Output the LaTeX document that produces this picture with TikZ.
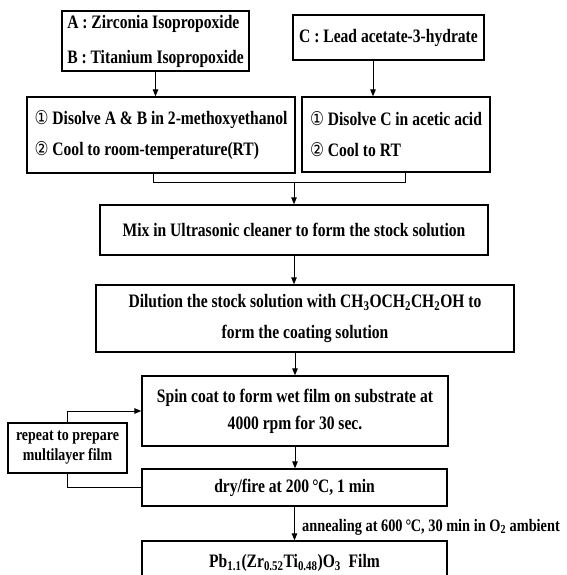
\documentclass[tikz,border=0pt]{standalone}
\usepackage{fontspec}
\setmainfont{Liberation Serif}[FakeStretch=0.82]
\newfontfamily\symf{DejaVu Sans}[FakeStretch=0.82]
\usetikzlibrary{arrows.meta}
\newcommand\cnum[1]{{\symf\mdseries #1}}
\newcommand\degc{\,°\kern-0.5pt C}
\tikzset{
  box/.style={draw, line width=1.3pt, inner sep=0pt, font=\bfseries\fontsize{19}{27}\selectfont},
  arr/.style={line width=1pt, -{Triangle[length=7pt,width=5.5pt]}},
  conn/.style={line width=1pt},
  lbl/.style={inner sep=0pt, font=\bfseries\fontsize{17.5}{20}\selectfont}
}
\begin{document}
\begin{tikzpicture}[x=1pt,y=-1pt]
\useasboundingbox (0,0) rectangle (566,575);
\fill[white] (0,0) rectangle (566,575);

\node[box, minimum width=187, minimum height=60, align=left, font=\bfseries\fontsize{19}{35}\selectfont] (ab) at (155.5,41) {A : Zirconia Isopropoxide\\B : Titanium Isopropoxide};
\node[box, minimum width=191, minimum height=45] (c) at (388.5,37.5) {C : Lead acetate-3-hydrate};
\node[box, minimum width=268, minimum height=76, align=left, font=\bfseries\fontsize{19}{31}\selectfont] (l1) at (161,135) {\cnum{①} Disolve A \& B in 2-methoxyethanol\\\cnum{②} Cool to room-temperature(RT)};
\node[box, minimum width=188, minimum height=75, align=left, font=\bfseries\fontsize{19}{31}\selectfont] (r1) at (396,134.5) {\cnum{①} Disolve C in acetic acid\\\cnum{②} Cool to RT};
\node[box, minimum width=388, minimum height=50] (mix) at (294,230) {Mix in Ultrasonic cleaner to form the stock solution};
\node[box, minimum width=418, minimum height=67, align=center, font=\bfseries\fontsize{19}{31}\selectfont] (dil) at (305,318.5) {Dilution the stock solution with CH\textsubscript{3}OCH\textsubscript{2}CH\textsubscript{2}OH to\\form the coating solution};
\node[box, minimum width=306, minimum height=70, align=center, font=\bfseries\fontsize{19}{27}\selectfont] (spin) at (295,411) {Spin coat to form wet film on substrate at\\4000 rpm for 30 sec.};
\node[box, minimum width=305, minimum height=37] (dry) at (294.5,487.5) {dry/fire at 200\degc, 1 min};
\node[box, minimum width=305, minimum height=44] (film) at (294.5,563) {Pb\textsubscript{1.1}(Zr\textsubscript{0.52}Ti\textsubscript{0.48})O\textsubscript{3}\ \ Film};
\node[box, minimum width=119, minimum height=50, align=center, font=\bfseries\fontsize{17}{20}\selectfont] (rep) at (67.5,448) {repeat to prepare\\multilayer film};
\node[lbl, anchor=west] (ann) at (302,527) {annealing at 600\degc, 30 min in O\textsubscript{2} ambient};

\coordinate (jl) at (153,182);
\coordinate (jr) at (405,182);

\draw[arr] (ab.south) -- (ab.south |- l1.north);
\draw[arr] ([xshift=-15.5pt]c.south) -- ([xshift=-15.5pt]c.south |- r1.north);
\draw[conn] (l1.south -| jl) -- (jl) -- (jr) -- (r1.south -| jr);
\draw[arr] (mix.north |- jl) -- (mix.north);
\draw[arr] (mix.south) -- (mix.south |- dil.north);
\draw[arr] (spin.north |- dil.south) -- (spin.north);
\draw[arr] (spin.south) -- (spin.south |- dry.north);
\draw[arr] (dry.south) -- (dry.south |- film.north);
\draw[arr] (rep.north) -- (rep.north |- spin.west) -- (spin.west);
\draw[conn] (dry.west) -- (dry.west -| rep.south) -- (rep.south);
\end{tikzpicture}
\end{document}
